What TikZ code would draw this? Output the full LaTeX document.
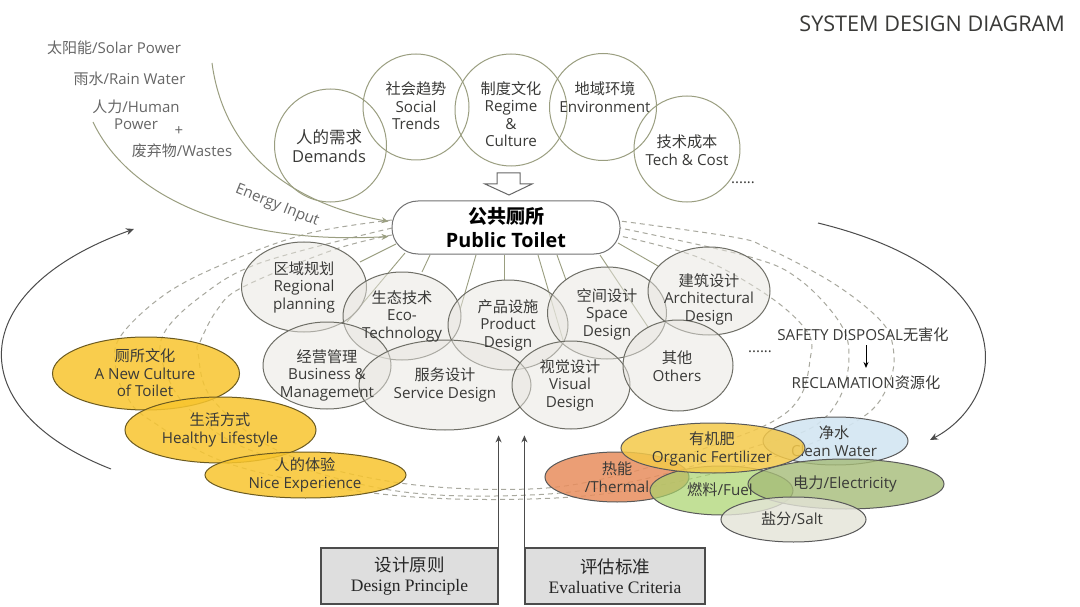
\documentclass[tikz,border=0pt]{standalone}
\usepackage{fontspec}
\usetikzlibrary{shapes.geometric,arrows.meta,calc}
\setmainfont{Open Sans}
\newfontfamily\cjk{Noto Sans CJK SC}
\newfontfamily\serifz{Liberation Serif}
\newcommand{\zh}[1]{{\cjk #1}}
\definecolor{txt}{HTML}{3A3A38}
\definecolor{graytxt}{HTML}{666666}
\definecolor{olive}{HTML}{9A9E80}
\definecolor{bubedge}{HTML}{6E6E66}
\definecolor{dashc}{HTML}{A8A89E}
\definecolor{bubfill}{HTML}{E8E6E0}
\definecolor{yel}{HTML}{F8C52E}
\definecolor{yeledge}{HTML}{6B5A20}
\definecolor{orgf}{HTML}{F4C94A}
\definecolor{cleanf}{HTML}{D3E6F2}
\definecolor{thermf}{HTML}{E88E5E}
\definecolor{fuelf}{HTML}{A9D46C}
\definecolor{electf}{HTML}{A6BC78}
\definecolor{saltf}{HTML}{E4E4D8}
\pgfdeclarelayer{bg}\pgfsetlayers{bg,main}
\tikzset{
  x=1pt,y=-1pt,
  circ/.style={draw=olive,line width=1pt,ellipse,inner sep=0pt},
  bub/.style={draw=bubedge,line width=1pt,ellipse,inner sep=0pt,fill=#1,fill opacity=.5,draw opacity=1},
  lab/.style={align=center,text=txt,font=\fontsize{15.2}{17.5}\selectfont,inner sep=0pt},
  side/.style={text=graytxt,font=\fontsize{15}{17}\selectfont,inner sep=0pt},
  ring/.style={draw=dashc,line width=1pt,dash pattern=on 5pt off 4pt},
  spoke/.style={draw=olive,line width=.9pt},
  energy/.style={draw=olive,line width=1pt,-{Stealth[length=7pt,width=6pt,fill=olive]}},
  sweep/.style={draw=black!70,line width=1pt,-{Stealth[length=8pt,width=7pt]}},
  up/.style={draw=black!70,line width=1.3pt,-{Stealth[length=7pt,width=6pt]}},
  crit/.style={draw=black!70,line width=1.2pt,fill=black!13,inner sep=0pt,minimum height=56pt,align=center,font=\fontsize{17.5}{20.5}\selectfont,text=black!85},
}
\begin{document}
\begin{tikzpicture}
\useasboundingbox (0,0) rectangle (1080,607);

\node[text=txt,anchor=east,inner sep=0pt,font=\fontsize{21.6}{24}\selectfont] (title) at (1065,24) {SYSTEM DESIGN DIAGRAM};

% top circles
\node[circ,minimum width=112pt,minimum height=113pt] (demands) at (330.5,145.5) {};
\node[lab,font=\fontsize{16.5}{18.5}\selectfont] (demandsT) at (329,146) {\zh{人的需求}\\Demands};
\node[circ,minimum width=106pt,minimum height=106pt] (social) at (416,107) {};
\node[lab] (socialT) at (416,106) {\zh{社会趋势}\\Social\\Trends};
\node[circ,minimum width=112pt,minimum height=112pt] (regime) at (511,110) {};
\node[lab] (regimeT) at (511,114) {\zh{制度文化}\\Regime\\\&\\Culture};
\node[circ,minimum width=107pt,minimum height=107pt] (environ) at (603,107) {};
\node[lab] (environT) at (605,97) {\zh{地域环境}\\Environment};
\node[circ,minimum width=106pt,minimum height=106pt] (tech) at (687,149) {};
\node[lab] (techT) at (687,150) {\zh{技术成本}\\Tech \& Cost};
\node[text=txt,inner sep=0pt,font=\fontsize{15}{15}\selectfont] (dots1) at (743,183) {......};

% hollow arrow
\draw[draw=black!60,line width=1pt,fill=white] (497,173) -- (520,173) -- (520,184) -- (532,184) -- (509,195) -- (485,184) -- (497,184) -- cycle;

% toilet
\node[draw=black!55,line width=1pt,fill=white,rounded corners=26pt,minimum width=228pt,minimum height=53pt,inner sep=0pt,align=center,text=black,font=\bfseries\fontsize{19.8}{24}\selectfont] (toilet) at (506,227.5) {{\cjk\fontsize{19}{24}\selectfont\bfseries 公共厕所}\\Public Toilet};

% design bubbles
\node[bub=bubfill,minimum width=125pt,minimum height=90pt] (regional) at (304,287) {};
\node[bub=bubfill,minimum width=118pt,minimum height=88pt] (eco) at (402,316) {};
\node[bub=bubfill,minimum width=120pt,minimum height=90pt] (product) at (508,325) {};
\node[bub=bubfill,minimum width=119pt,minimum height=92pt] (space) at (607,313) {};
\node[bub=bubfill,minimum width=122pt,minimum height=88pt] (arch) at (709,291) {};
\node[bub=bubfill,minimum width=128pt,minimum height=87pt] (business) at (327,365.5) {};
\node[bub=bubfill,minimum width=172pt,minimum height=90pt] (service) at (445,385) {};
\node[bub=bubfill,minimum width=118pt,minimum height=88pt] (visual) at (571,385) {};
\node[bub=bubfill,minimum width=110pt,minimum height=91pt] (others) at (678,365.5) {};
\node[lab] (regionalT) at (304,287) {\zh{区域规划}\\Regional\\planning};
\node[lab] (ecoT) at (402,316) {\zh{生态技术}\\Eco-\\Technology};
\node[lab] (productT) at (508,325) {\zh{产品设施}\\Product\\Design};
\node[lab] (spaceT) at (607,314) {\zh{空间设计}\\Space\\Design};
\node[lab] (archT) at (709,299) {\zh{建筑设计}\\Architectural\\Design};
\node[lab] (businessT) at (327,375) {\zh{经营管理}\\Business \&\\Management};
\node[lab] (serviceT) at (445,385) {\zh{服务设计}\\Service Design};
\node[lab] (visualT) at (570,385) {\zh{视觉设计}\\Visual\\Design};
\node[lab] (othersT) at (677,366) {\zh{其他}\\Others};
\node[text=txt,inner sep=0pt,font=\fontsize{15}{15}\selectfont] (dots2) at (760,352) {......};

% yellow
\node[bub=yel,fill opacity=.85,draw=yeledge,minimum width=187pt,minimum height=73pt] (culture) at (146,373.5) {};
\node[lab] (cultureT) at (145,373) {\zh{厕所文化}\\A New Culture\\of Toilet};
\node[bub=yel,fill opacity=.85,draw=yeledge,minimum width=191pt,minimum height=66pt] (life) at (220.5,430) {};
\node[lab] (lifeT) at (220,430) {\zh{生活方式}\\Healthy Lifestyle};
\node[bub=yel,fill opacity=.85,draw=yeledge,minimum width=201pt,minimum height=46pt] (exper) at (305.5,475) {};
\node[lab] (experT) at (305,475) {\zh{人的体验}\\Nice Experience};

% products
\node[bub=cleanf,fill opacity=.9,draw=black!65,minimum width=145pt,minimum height=48pt] (clean) at (835.5,441) {};
\node[lab] (cleanT) at (834,441) {\zh{净水}\\Clean Water};
\node[bub=thermf,fill opacity=.85,draw=black!65,minimum width=144pt,minimum height=50pt] (thermal) at (617,477) {};
\node[bub=fuelf,fill opacity=.7,draw=black!65,minimum width=143pt,minimum height=49pt] (fuel) at (721.5,490.5) {};
\node[bub=electf,fill opacity=.8,draw=black!65,minimum width=196pt,minimum height=50pt] (elect) at (846,484) {};
\node[lab] (thermalT) at (617,477) {\zh{热能}\\/Thermal};
\node[lab] (fuelT) at (720,490) {\zh{燃料}/Fuel};
\node[lab] (electT) at (845,484) {\zh{电力}/Electricity};
\node[bub=orgf,fill opacity=.85,draw=black!65,minimum width=184pt,minimum height=50pt] (organic) at (713,448) {};
\node[lab] (organicT) at (712,449) {\zh{有机肥}\\Organic Fertilizer};
\node[bub=saltf,fill opacity=.8,draw=black!65,minimum width=145pt,minimum height=45pt] (salt) at (793.5,519.5) {};
\node[lab] (saltT) at (792,519) {\zh{盐分}/Salt};

% left labels
\node[side] (solar) at (114,48) {\zh{太阳能}/Solar Power};
\node[side] (rain) at (129.5,79) {\zh{雨水}/Rain Water};
\node[side] (human) at (136,107) {\zh{人力}/Human};
\node[side] (power) at (136,124) {Power};
\node[side] (plus) at (179,131) {+};
\node[side] (wastes) at (182,151) {\zh{废弃物}/Wastes};
\node[side,rotate=-22] (energyL) at (277,206) {Energy Input};
\coordinate (solarEnd) at (212,63);
\coordinate (humanEnd) at (93,122);

% right labels
\node[lab] (safety) at (863,335) {SAFETY DISPOSAL\zh{无害化}};
\node[lab] (reclam) at (866,383) {RECLAMATION\zh{资源化}};
\coordinate (safeA) at (866,345);
\coordinate (safeB) at (866,368);
\draw[draw=black,line width=1pt,-{Stealth[length=6pt,width=5pt]}] (safeA) -- (safeB);

% criteria
\node[crit,minimum width=177pt] (principle) at (409.5,576) {\zh{设计原则}\\{\serifz Design Principle}};
\node[crit,minimum width=180pt] (criteria) at (615,576) {\zh{评估标准}\\{\serifz Evaluative Criteria}};

\coordinate (sweepLa) at (111,469);
\coordinate (sweepLb) at (134,229);
\coordinate (sweepRa) at (818,223);
\coordinate (sweepRb) at (930,440);

\begin{pgfonlayer}{bg}
\fill[white] (0,0) rectangle (1080,607);
\draw[ring] plot[smooth,tension=.6] coordinates {(392,220) (310,233) (233,260) (167,293) (120,337) (116,370) (127,397) (150,420) (233,465) (381,494) (530,499) (650,487) (780,455) (863,417) (890,380) (893,347) (880,320) (833,283) (767,248) (733,237) (620,221)};
\draw[ring] plot[smooth,tension=.6] coordinates {(392,228) (260,263) (200,297) (163,335) (165,370) (190,410) (250,450) (390,490) (530,495) (640,480) (760,445) (813,427) (840,397) (849,357) (840,323) (800,280) (750,257) (620,228)};
\draw[ring] plot[smooth,tension=.6] coordinates {(392,235) (333,250) (243,287) (217,310) (200,342) (198,353) (213,400) (283,453) (400,483) (530,489) (620,475) (700,450) (770,423) (800,397) (810,360) (808,333) (770,297) (700,258) (620,236)};
\draw[spoke] ($(toilet.center)+(-110,16.5)$) -- ($(regional.center)+(56,-25)$);
\draw[spoke] ($(toilet.center)+(-101,25.5)$) -- ($(eco.center)+(-55,6)$);
\draw[spoke] ($(toilet.center)+(-76,27.5)$) -- ($(eco.center)+(20,-44)$);
\draw[spoke] ($(toilet.center)+(-30,27.5)$) -- ($(product.center)+(-48,-15)$);
\draw[spoke] ($(toilet.center)+(-2,27.5)$) -- ($(product.center)+(-4,-45)$);
\draw[spoke] ($(toilet.center)+(32,27.5)$) -- ($(product.center)+(55,15)$);
\draw[spoke] ($(toilet.center)+(51,27.5)$) -- ($(space.center)+(-41,-33)$);
\draw[spoke] ($(toilet.center)+(94,27.5)$) -- ($(space.center)+(41,14)$);
\draw[spoke] ($(toilet.center)+(112,15.5)$) -- ($(arch.center)+(-51,-25)$);
\draw[energy] (solarEnd) .. controls (225,160) and (300,205) .. ($(toilet.west)+(-3,-6)$);
\draw[energy] (humanEnd) .. controls (130,200) and (240,245) .. ($(toilet.west)+(-3,9)$);
\draw[sweep] (sweepLa) .. controls (-40,410) and (-36,290) .. (sweepLb);
\draw[sweep] (sweepRa) .. controls (1030,275) and (1006,400) .. (sweepRb);
\draw[up] (principle.north east) -- ++(0,-112);
\draw[up] (criteria.north west) -- ++(0,-112);
\end{pgfonlayer}
\end{tikzpicture}
\end{document}
